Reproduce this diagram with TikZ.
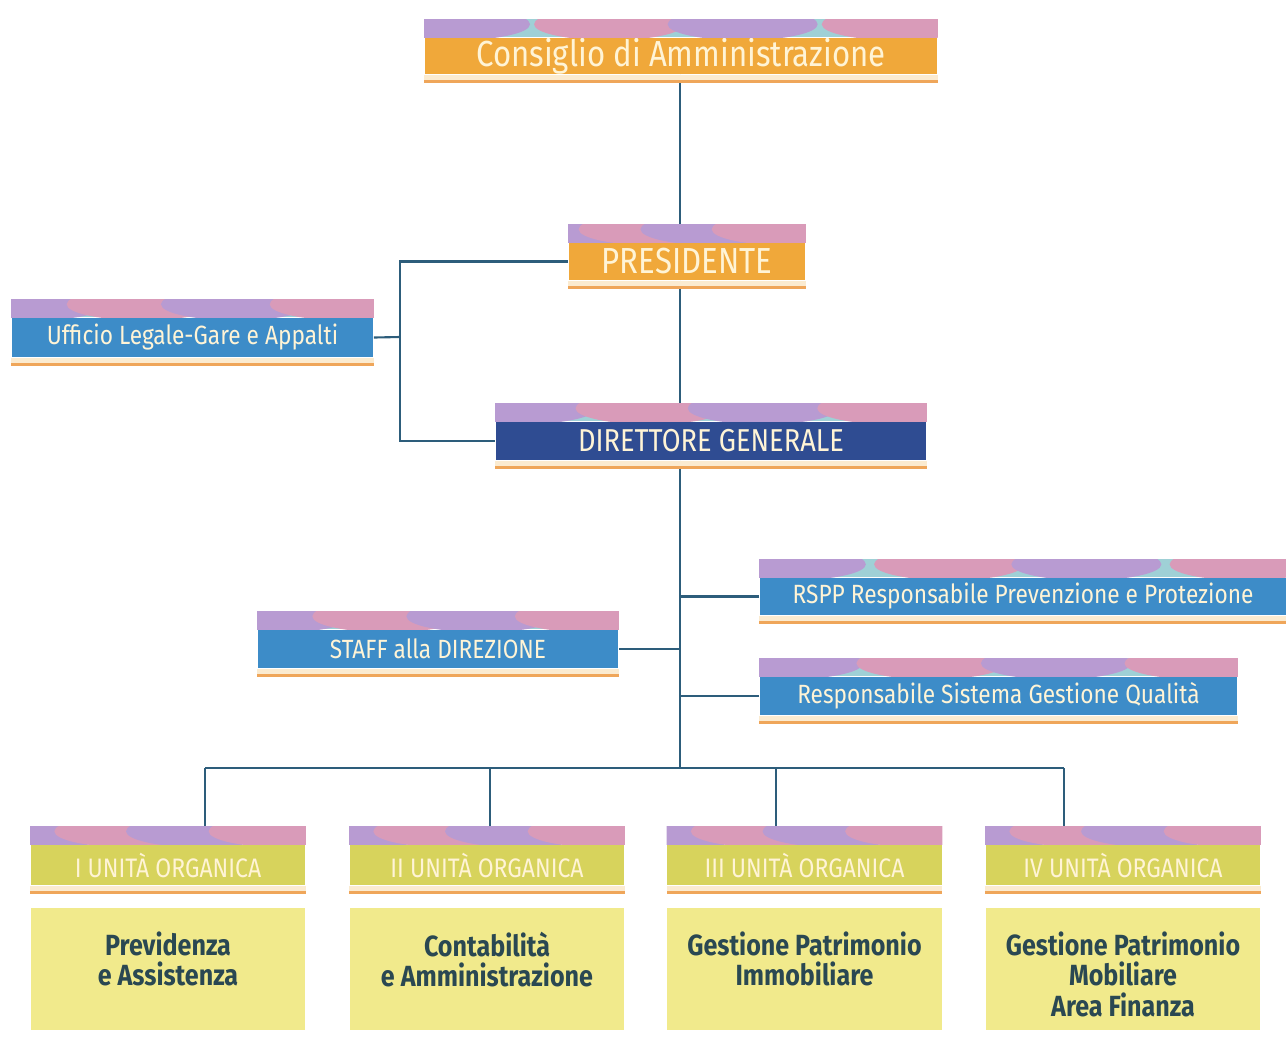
\documentclass[tikz,border=0pt]{standalone}
\usepackage{fontspec}
\setmainfont{Fira Sans}[FakeStretch=0.86]
\usetikzlibrary{calc,backgrounds}

\definecolor{orgorange}{HTML}{F0A83A}
\definecolor{orgblue}{HTML}{3D8CC8}
\definecolor{orgnavy}{HTML}{2F4C92}
\definecolor{orgolive}{HTML}{D7D35C}
\definecolor{orgpale}{HTML}{F1EA8C}
\definecolor{orgtext}{HTML}{FFF4D6}
\definecolor{orgdark}{HTML}{2A4852}
\definecolor{linkcol}{HTML}{2D5D7B}
\definecolor{stripeteal}{HTML}{9FD0D6}
\definecolor{stripepink}{HTML}{D99BB9}
\definecolor{stripepurple}{HTML}{B89BD2}
\definecolor{creamline}{HTML}{FBEBD0}
\definecolor{orangeline}{HTML}{EFA65A}

\tikzset{
  orgbox/.style={rectangle, inner sep=0pt, text=orgtext, font=\fontsize{10.3}{12}\selectfont},
  topbox/.style={orgbox, fill=orgorange},
  bluebox/.style={orgbox, fill=orgblue, font=\fontsize{7.5}{9}\selectfont},
  navybox/.style={orgbox, fill=orgnavy, font=\fontsize{9}{11}\selectfont},
  unitbox/.style={orgbox, fill=orgolive, minimum width=2.74cm, minimum height=0.40cm, font=\fontsize{7.6}{9}\selectfont},
  areabox/.style={rectangle, inner sep=0pt, fill=orgpale, text=orgdark, align=center,
    minimum width=2.74cm, minimum height=1.22cm, font=\bfseries\fontsize{8.3}{8.6}\selectfont},
  link/.style={draw=linkcol, line width=0.6pt}
}

% stripe on top, orange rule below
\newcommand{\boxdeco}[1]{%
  \begin{scope}
    \clip ([yshift=0.18cm]#1.north west) rectangle (#1.north east);
    \fill[stripeteal] ([yshift=0.18cm]#1.north west) rectangle (#1.north east);
    \foreach \f/\c in {0.06/stripepurple,0.36/stripepink,0.62/stripepurple,0.92/stripepink}
      \fill[\c] ($(#1.north west)!\f!(#1.north east)+(0,0.13cm)$) ellipse (0.75cm and 0.16cm);
  \end{scope}
  \fill[creamline] (#1.south west) rectangle ([yshift=-0.05cm]#1.south east);
  \fill[orangeline] ([yshift=-0.05cm]#1.south west) rectangle ([yshift=-0.085cm]#1.south east);
}
% area text, top aligned
\newcommand{\areatext}[1]{\parbox[c][0.74cm][t]{2.7cm}{\centering #1}}

\begin{document}
\begin{tikzpicture}[x=0.01cm,y=-0.01cm]
  \useasboundingbox (0,0) rectangle (1286,1036);

  \node[topbox, minimum width=5.12cm, minimum height=0.36cm] (cda) at (681,56) {Consiglio di Amministrazione};
  \node[topbox, minimum width=2.36cm, minimum height=0.37cm] (pres) at (687,261.5) {PRESIDENTE};
  \node[bluebox, minimum width=3.61cm, minimum height=0.39cm] (ufl) at (192.5,337.5) {Ufficio Legale-Gare e Appalti};
  \node[navybox, minimum width=4.30cm, minimum height=0.38cm] (dg) at (711,441) {DIRETTORE GENERALE};
  \node[bluebox, minimum width=5.26cm, minimum height=0.37cm] (rspp) at (1023,596.5) {RSPP Responsabile Prevenzione e Protezione};
  \node[bluebox, minimum width=3.60cm, minimum height=0.38cm] (staff) at (438,649) {STAFF alla DIREZIONE};
  \node[bluebox, minimum width=4.77cm, minimum height=0.38cm] (sgq) at (998.5,696) {Responsabile Sistema Gestione Qualità};

  \node[unitbox] (u1) at (168,865) {I UNITÀ ORGANICA};
  \node[unitbox] (u2) at (487,865) {II UNITÀ ORGANICA};
  \node[unitbox] (u3) at (804.5,865) {III UNITÀ ORGANICA};
  \node[unitbox] (u4) at (1123,865) {IV UNITÀ ORGANICA};

  \node[areabox] (a1) at (168,969) {\areatext{Previdenza\\e Assistenza}};
  \node[areabox] (a2) at (487,969) {\areatext{Contabilità\\e Amministrazione}};
  \node[areabox] (a3) at (804.5,969) {\areatext{Gestione Patrimonio\\Immobiliare}};
  \node[areabox] (a4) at (1123,969) {\areatext{Gestione Patrimonio\\Mobiliare\\Area Finanza}};

  \foreach \n in {cda,pres,ufl,dg,rspp,staff,sgq,u1,u2,u3,u4}
    \boxdeco{\n};

  \coordinate (legj) at (400,337);
  \coordinate (bus) at (680,768);
  \coordinate (d1) at (205,768);
  \coordinate (d2) at (490,768);
  \coordinate (d3) at (776,768);
  \coordinate (d4) at (1064,768);

  \begin{pgfonlayer}{background}
    \draw[link] (cda.south -| bus) -- (pres.north -| bus);
    \draw[link] (pres.south -| bus) -- (dg.north -| bus);
    \draw[link] (dg.south -| bus) -- (bus);
    \draw[link] (pres.west) -| (legj) |- (dg.west);
    \draw[link] (ufl.east) -- (legj);
    \draw[link] (rspp.west) -- (rspp.west -| bus);
    \draw[link] (sgq.west) -- (sgq.west -| bus);
    \draw[link] (staff.east) -- (staff.east -| bus);
    \draw[link] (d1) -- (d4);
    \draw[link] (d1) -- (d1 |- u1.north);
    \draw[link] (d2) -- (d2 |- u2.north);
    \draw[link] (d3) -- (d3 |- u3.north);
    \draw[link] (d4) -- (d4 |- u4.north);
  \end{pgfonlayer}
\end{tikzpicture}
\end{document}
